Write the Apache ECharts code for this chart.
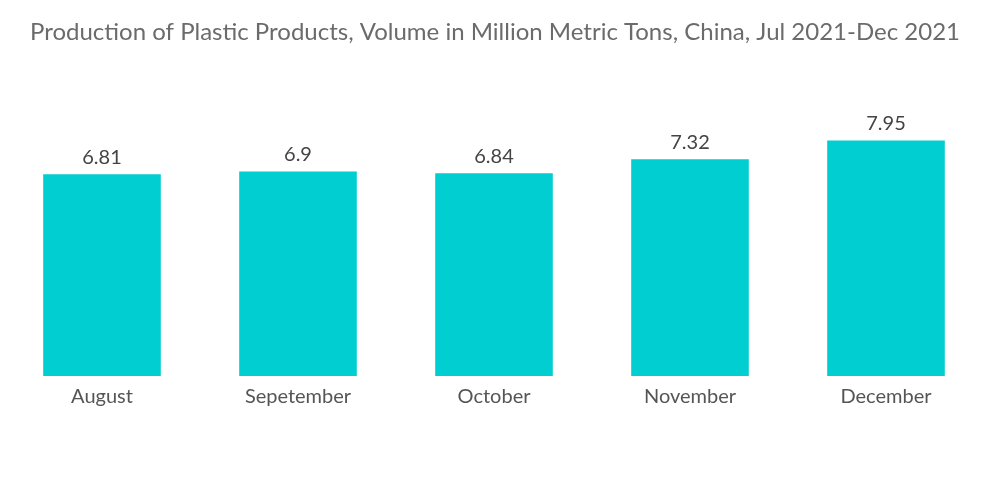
<!DOCTYPE html>
<html>
<head>
<meta charset="utf-8">
<script src="https://cdn.jsdelivr.net/npm/echarts@6/dist/echarts.min.js"></script>
<style>
  html, body { margin: 0; padding: 0; background: #fff; }
  #chart { width: 1000px; height: 504px; }
</style>
</head>
<body>
<div id="chart"></div>
<script>
var months = ['August', 'Sepetember', 'October', 'November', 'December']
var production = [6.81, 6.9, 6.84, 7.32, 7.95]

var myChart = echarts.init(document.getElementById('chart'))
var option = {
    title: {
        text: 'Production of Plastic Products, Volume in Million Metric Tons, China, Jul 2021-Dec 2021',
        left: 25,
        top: 15,
        textStyle: {
            fontFamily: 'Lato',
            fontSize: 24,
            fontWeight: 'normal',
            color: '#6b6b6b'
        }
    },
    grid: {
        left: 4,
        right: 16,
        top: 139,
        bottom: 128
    },
    xAxis: {
        type: 'category',
        data: months,
        axisLine: { show: false },
        axisTick: { show: false },
        axisLabel: {
            margin: 11,
            fontFamily: 'Lato',
            fontSize: 20,
            color: '#555'
        }
    },
    yAxis: {
        type: 'value',
        min: 0,
        max: 8,
        show: false,
        splitLine: { show: false }
    },
    series: [{
        type: 'bar',
        data: production,
        barWidth: '60%',
        itemStyle: { color: '#00ced1' },
        label: {
            show: true,
            position: 'top',
            distance: 7,
            fontFamily: 'Lato',
            fontSize: 20,
            color: '#444'
        }
    }]
}
myChart.setOption(option)
</script>
</body>
</html>
